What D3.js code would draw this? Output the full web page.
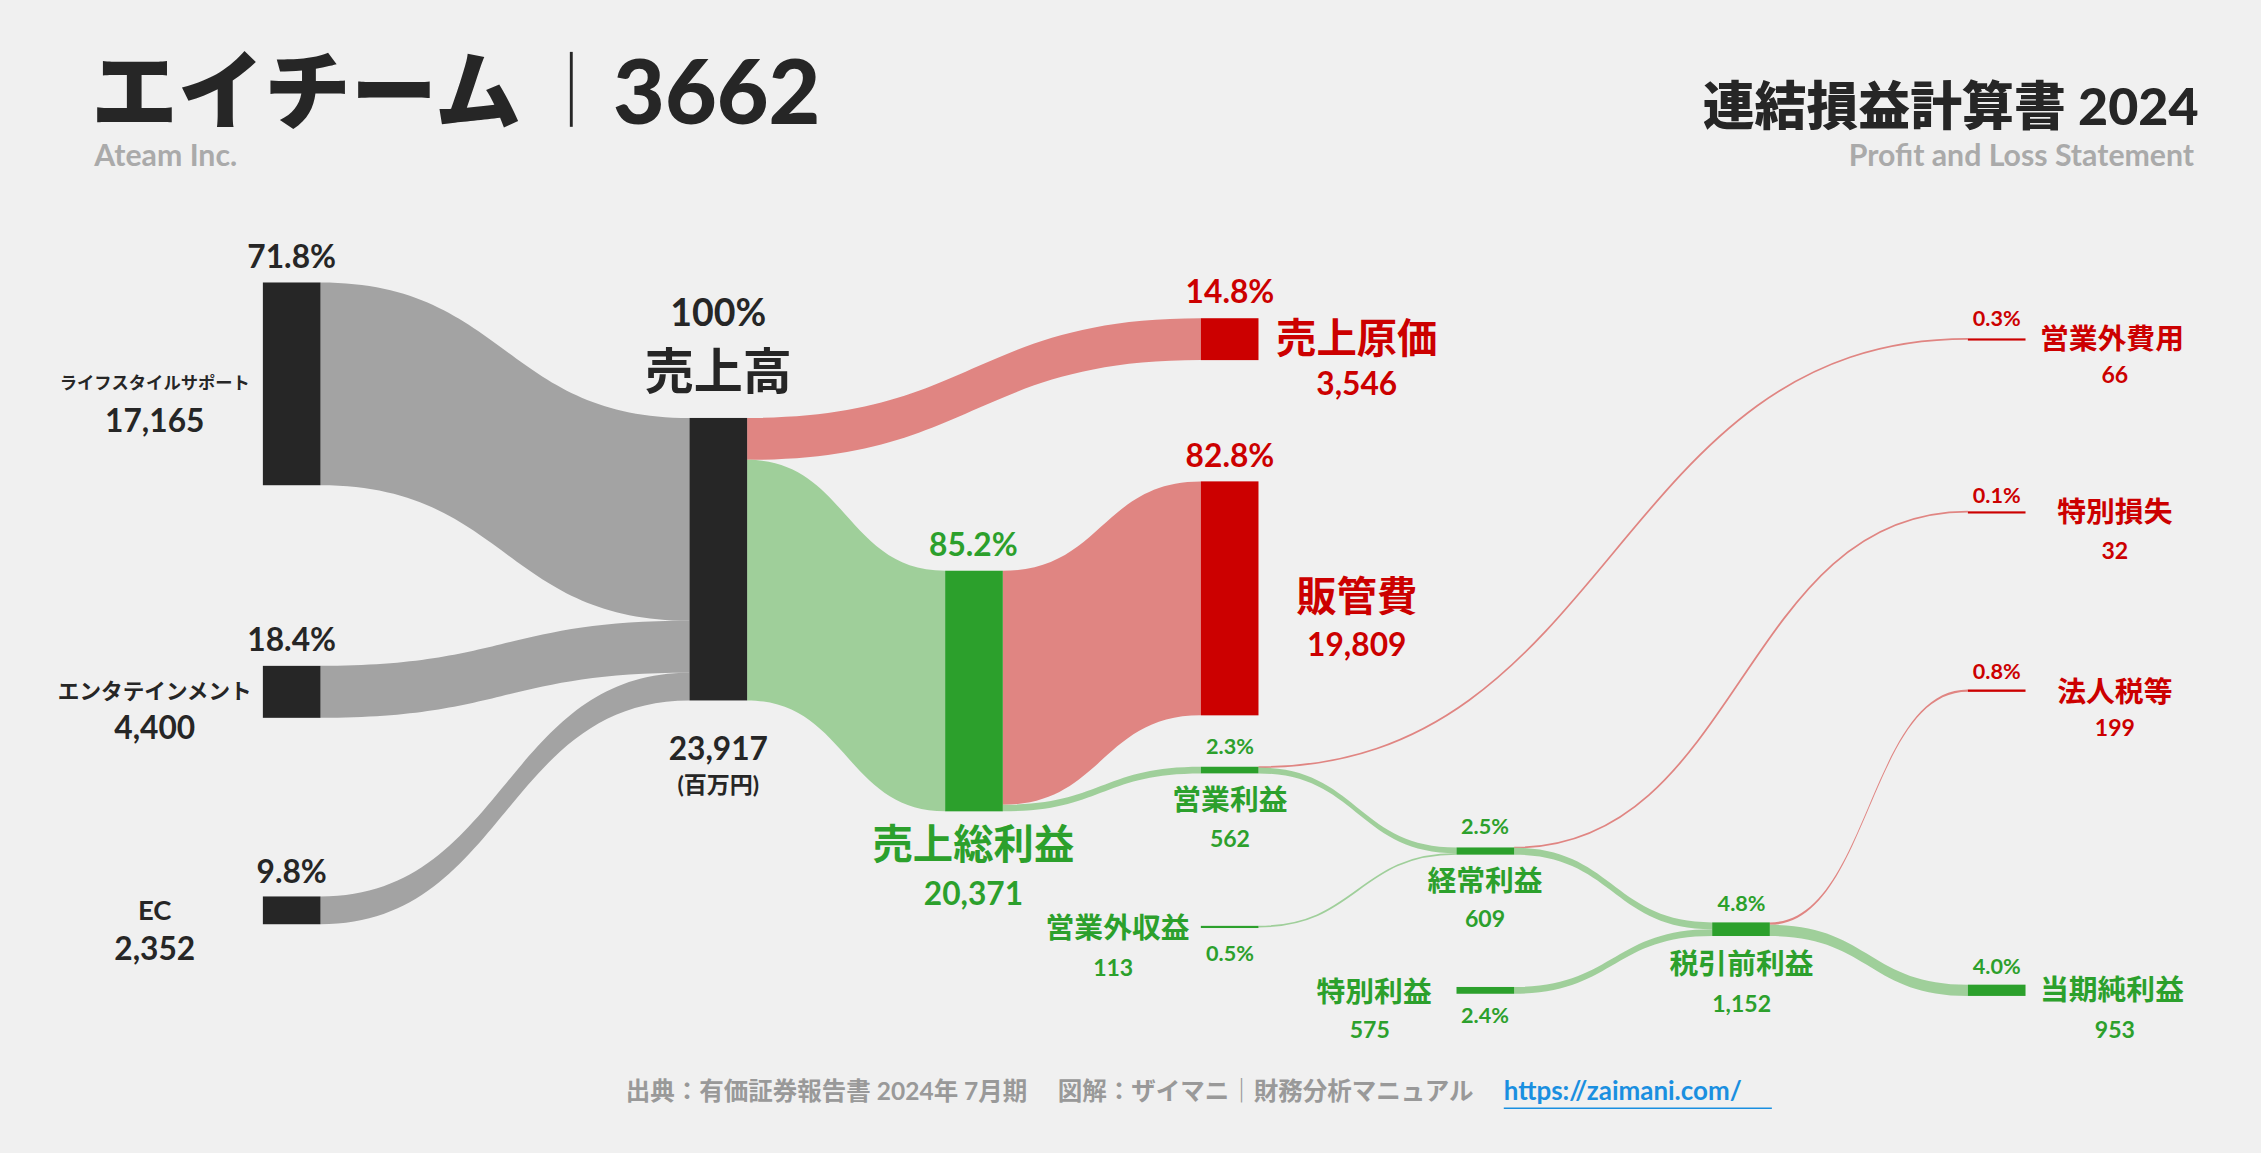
<!DOCTYPE html>
<html><head><meta charset="utf-8">
<script src="https://cdn.jsdelivr.net/npm/d3@7"></script>
<style>body{margin:0;background:#f0f0f0}svg{display:block}</style>
</head><body>
<svg id="c" width="2261" height="1153" viewBox="0 0 1568 800"></svg>
<script>
// ---- data ----
const nodeNames = ["ライフスタイルサポート","エンタテインメント","EC","売上高","売上原価","売上総利益","販管費","営業利益","営業外収益","営業外費用","経常利益","特別利益","特別損失","税引前利益","法人税等","当期純利益"];
const nodeValues = [17165,4400,2352,23917,3546,20371,19809,562,113,66,609,575,32,1152,199,953];
const nodeKinds  = ["k","k","k","k","r","g","r","g","g","r","g","g","r","g","r","g"];
const linkSources = ["ライフスタイルサポート","エンタテインメント","EC","売上高","売上高","売上総利益","売上総利益","営業利益","営業利益","営業外収益","経常利益","経常利益","特別利益","税引前利益","税引前利益"];
const linkTargets = ["売上高","売上高","売上高","売上原価","売上総利益","販管費","営業利益","営業外費用","経常利益","経常利益","特別損失","税引前利益","税引前利益","法人税等","当期純利益"];
const linkValues  = [17165,4400,2352,3546,20371,19809,562,66,496,113,32,577,575,199,953];
// layout (column index, top position as fraction of height)
const nodeCol = [0,0,0,1,3,2,3,3,3,6,4,4,6,5,6,6];
const nodeTopFrac = [0.245,0.5775,0.7775,0.3625,0.276,0.495,0.4175,0.665,0.803,0.2935,0.735,0.856,0.4435,0.8,0.598,0.854];

const svg = d3.select("#c");
const xCol = d3.scaleLinear().domain([0,1,6]).range([182,478,1365]);
const yPos = d3.scaleLinear().domain([0,1]).range([0,800]);
const hScale = d3.scaleLinear().domain([0,23917]).range([0,196]);
const NW = 40;
const col = {k:"#262626", r:"#cc0000", g:"#2ca02c"};
const lcol = {k:"#a3a3a3", r:"#e08582", g:"#9fcf9a"};

const nodes = nodeNames.map((n,i)=>({name:n,value:nodeValues[i],kind:nodeKinds[i],x:xCol(nodeCol[i]),y:yPos(nodeTopFrac[i]),h:Math.max(1.5,hScale(nodeValues[i])),so:0,to:0}));
const byName = Object.fromEntries(nodes.map(n=>[n.name,n]));

const gL = svg.append("g");
linkValues.forEach((v,i)=>{
  const s=byName[linkSources[i]], t=byName[linkTargets[i]];
  const h=hScale(v);
  const y0=s.y+s.so, y1=t.y+t.to; s.so+=h; t.to+=h;
  const x0=s.x+NW, x1=t.x, xm=(x0+x1)/2;
  const kind = t.kind==="r" ? "r" : (s.kind==="k" && t.name==="売上高" ? "k" : "g");
  if(h<1.5){
    const a=y0+h/2,b=y1+h/2;
    gL.append("path").attr("d",`M${x0},${a}C${xm},${a} ${xm},${b} ${x1},${b}`).attr("fill","none").attr("stroke",lcol[kind]).attr("stroke-width",1.2);
  } else {
    gL.append("path").attr("d",`M${x0},${y0}C${xm},${y0} ${xm},${y1} ${x1},${y1}L${x1},${y1+h}C${xm},${y1+h} ${xm},${y0+h} ${x0},${y0+h}Z`).attr("fill",lcol[kind]);
  }
});
svg.append("g").selectAll("rect").data(nodes).join("rect")
  .attr("x",d=>d.x).attr("y",d=>d.y).attr("width",NW).attr("height",d=>d.h).attr("fill",d=>col[d.kind]);

const F="Lato,'Noto Sans CJK JP',sans-serif";
function t(x,y,s,size,fill,anchor="middle",w=700){
  return svg.append("text").attr("x",x).attr("y",y).text(s).attr("font-size",size).attr("fill",fill)
   .attr("text-anchor",anchor).attr("font-weight",w).attr("font-family",F);
}
const K="#262626",R="#cc0000",G="#2ca02c";
// header
t(63,85,"エイチーム",60,K,"start",900);
svg.append("line").attr("x1",396).attr("x2",396).attr("y1",36).attr("y2",88).attr("stroke",K).attr("stroke-width",2);
t(425,86,"3662",62,K,"start",900);
t(65,115,"Ateam Inc.",21,"#aaa","start");
t(1525,87,"連結損益計算書 2024",36,K,"end",900);
t(1522,115,"Profit and Loss Statement",21,"#aaa","end");
// left
t(202,186,"71.8%",22,K); t(107,270,"ライフスタイルサポート",12,K); t(107,300,"17,165",22,K);
t(202,452,"18.4%",22,K); t(107,485,"エンタテインメント",15,K); t(107,513,"4,400",22,K);
t(202,613,"9.8%",22,K); t(107,638,"EC",19,K); t(107,666,"2,352",22,K);
t(498,226,"100%",26,K); t(498,270,"売上高",34,K); t(498,527,"23,917",22,K); t(498,550,"(百万円)",16,K);
t(853,210,"14.8%",22,R); t(885,245,"売上原価",28,R,"start"); t(941,274,"3,546",22,R);
t(853,324,"82.8%",22,R); t(941,424,"販管費",28,R); t(941,455,"19,809",22,R);
t(675,386,"85.2%",22,G); t(675,596,"売上総利益",28,G); t(675,628,"20,371",22,G);
t(853,523,"2.3%",15,G); t(853,562,"営業利益",20,G); t(853,588,"562",16,G);
t(825,651,"営業外収益",20,G,"end"); t(772,677,"113",16,G); t(853,667,"0.5%",15,G);
t(1030,579,"2.5%",15,G); t(1030,618,"経常利益",20,G); t(1030,643,"609",16,G);
t(993,695,"特別利益",20,G,"end"); t(950,720,"575",16,G); t(1030,710,"2.4%",15,G);
t(1208,632,"4.8%",15,G); t(1208,676,"税引前利益",20,G); t(1208,702,"1,152",16,G);
t(1385,676,"4.0%",15,G); t(1415,694,"当期純利益",20,G,"start"); t(1467,720,"953",16,G);
t(1385,226,"0.3%",15,R); t(1415,242,"営業外費用",20,R,"start"); t(1467,266,"66",16,R);
t(1385,349,"0.1%",15,R); t(1467,362,"特別損失",20,R); t(1467,388,"32",16,R);
t(1385,471,"0.8%",15,R); t(1467,487,"法人税等",20,R); t(1467,511,"199",16,R);
// footer
t(1022,763,"出典：有価証券報告書 2024年 7月期　 図解：ザイマニ｜財務分析マニュアル",17,"#999","end");
t(1043,763,"https://zaimani.com/",18,"#1a8fe0","start");
svg.append("line").attr("x1",1043).attr("x2",1229).attr("y1",769).attr("y2",769).attr("stroke","#1a8fe0").attr("stroke-width",1);
</script>
</body></html>
